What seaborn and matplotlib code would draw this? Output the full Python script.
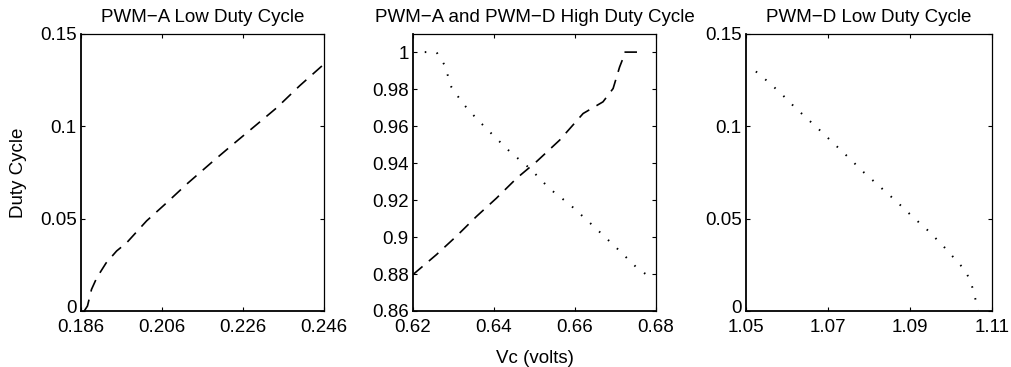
import matplotlib
matplotlib.use("Agg")
import matplotlib.pyplot as plt
import matplotlib.transforms as mtransforms
import seaborn as sns
import pandas as pd

# PWM-A, low duty cycle region
vc_a_low = [0.1868, 0.1876, 0.1886, 0.1899, 0.1922, 0.1948, 0.1973, 0.2022,
            0.2072, 0.2121, 0.2187, 0.2236, 0.2294, 0.2343, 0.2400, 0.2460]
duty_a_low = [0.0000, 0.0027, 0.0117, 0.0180, 0.0260, 0.0325, 0.0370, 0.0488,
              0.0587, 0.0687, 0.0813, 0.0904, 0.1010, 0.1100, 0.1220, 0.1337]

# PWM-A, high duty cycle region
vc_a_high = [0.6200, 0.6258, 0.6307, 0.6357, 0.6406, 0.6456, 0.6505, 0.6562,
             0.6620, 0.6669, 0.6694, 0.6710, 0.6718, 0.6722, 0.6755]
duty_a_high = [0.8797, 0.8905, 0.9004, 0.9112, 0.9210, 0.9318, 0.9408, 0.9524,
               0.9668, 0.9731, 0.9803, 0.9919, 0.9964, 1.0000, 1.0000]

# PWM-D, high duty cycle region
vc_d_high = [0.6229, 0.6258, 0.6278, 0.6287, 0.6295, 0.6324, 0.6357, 0.6398,
             0.6440, 0.6489, 0.6538, 0.6588, 0.6646, 0.6703, 0.6753, 0.6782]
duty_d_high = [1.0000, 1.0000, 0.9930, 0.9866, 0.9810, 0.9720, 0.9640, 0.9550,
               0.9460, 0.9370, 0.9260, 0.9174, 0.9058, 0.8940, 0.8833, 0.8788]

# PWM-D, low duty cycle region
vc_d_low = [1.0524, 1.0542, 1.0583, 1.0620, 1.0677, 1.0714, 1.0751, 1.0788,
            1.0829, 1.0866, 1.0903, 1.0944, 1.0980, 1.1017, 1.1034, 1.1046,
            1.1054, 1.1060, 1.1065]
duty_d_low = [0.1297, 0.1264, 0.1183, 0.1101, 0.0985, 0.0907, 0.0829, 0.0749,
              0.0668, 0.0595, 0.0517, 0.0435, 0.0354, 0.0263, 0.0221, 0.0167,
              0.0114, 0.0058, 0.0004]

titles = ["PWM\u2212A Low Duty Cycle",
          "PWM\u2212A and PWM\u2212D High Duty Cycle",
          "PWM\u2212D Low Duty Cycle"]
xticks_1 = [0.186, 0.206, 0.226, 0.246]
yticks_1 = [0, 0.05, 0.1, 0.15]
xticks_2 = [0.62, 0.64, 0.66, 0.68]
yticks_2 = [0.86, 0.88, 0.9, 0.92, 0.94, 0.96, 0.98, 1]
xticks_3 = [1.05, 1.07, 1.09, 1.11]
yticks_3 = [0, 0.05, 0.1, 0.15]

FS = 13.5

sns.set_style("ticks")
plt.rcParams["font.family"] = ["Liberation Sans", "DejaVu Sans"]
plt.rcParams["font.size"] = FS
plt.rcParams["text.color"] = "black"
plt.rcParams["axes.labelcolor"] = "black"
plt.rcParams["xtick.direction"] = "in"
plt.rcParams["ytick.direction"] = "in"
plt.rcParams["xtick.top"] = True
plt.rcParams["ytick.right"] = True
plt.rcParams["axes.unicode_minus"] = True

fig = plt.figure(figsize=(10.11, 3.67), dpi=100, facecolor="white")
bottom, height = 0.1526, 0.7548
ax1 = fig.add_axes([0.0801, bottom, 0.2404, height])
ax2 = fig.add_axes([0.4085, bottom, 0.2404, height])
ax3 = fig.add_axes([0.7379, bottom, 0.2434, height])

dashed = dict(color="black", lw=1.2, linestyle=(0, (7.5, 5)))
dotted = dict(color="black", lw=1.4, linestyle=(0, (0.8, 5.5)))

sns.lineplot(data=pd.DataFrame({"x": vc_a_low, "y": duty_a_low}), x="x", y="y",
             sort=False, estimator=None, ax=ax1, **dashed)
sns.lineplot(data=pd.DataFrame({"x": vc_a_high, "y": duty_a_high}), x="x", y="y",
             sort=False, estimator=None, ax=ax2, **dashed)
sns.lineplot(data=pd.DataFrame({"x": vc_d_high, "y": duty_d_high}), x="x", y="y",
             sort=False, estimator=None, ax=ax2, **dotted)
sns.lineplot(data=pd.DataFrame({"x": vc_d_low, "y": duty_d_low}), x="x", y="y",
             sort=False, estimator=None, ax=ax3, **dotted)

settings = [
    (ax1, xticks_1, yticks_1, (0.186, 0.246), (0, 0.15)),
    (ax2, xticks_2, yticks_2, (0.62, 0.68), (0.86, 1.0098)),
    (ax3, xticks_3, yticks_3, (1.05, 1.11), (0, 0.15)),
]
for (ax, xt, yt, xl, yl), title in zip(settings, titles):
    ax.set_xlim(*xl)
    ax.set_ylim(*yl)
    ax.set_xticks(xt)
    ax.set_yticks(yt)
    ax.set_xticklabels([f"{v:g}" for v in xt])
    ax.set_yticklabels([f"{v:g}" for v in yt])
    ax.set_title(title, fontsize=FS, pad=8.5, color="black")
    ax.set_xlabel("")
    ax.set_ylabel("")
    ax.tick_params(axis="both", length=3, width=0.8, labelsize=FS,
                   top=True, right=True, color="black", labelcolor="black")
    ax.tick_params(axis="x", pad=6)
    ax.tick_params(axis="y", pad=3)
    for side, sp in ax.spines.items():
        sp.set_visible(True)
        sp.set_color("black")
        sp.set_linewidth(1.3 if side in ("left", "bottom") else 0.9)
    ax.set_facecolor("white")

# lift the "0" labels a little so they clear the x tick labels below
lift = mtransforms.ScaledTranslation(0, 3 / 72, fig.dpi_scale_trans)
for ax in (ax1, ax3):
    lbl = ax.get_yticklabels()[0]
    lbl.set_transform(lbl.get_transform() + lift)

ax1.set_ylabel("Duty Cycle", fontsize=FS, labelpad=9.5, color="black")
ax2.set_xlabel("Vc (volts)", fontsize=FS, labelpad=9.5, color="black")

fig.savefig("out.png", dpi=100, facecolor="white")
